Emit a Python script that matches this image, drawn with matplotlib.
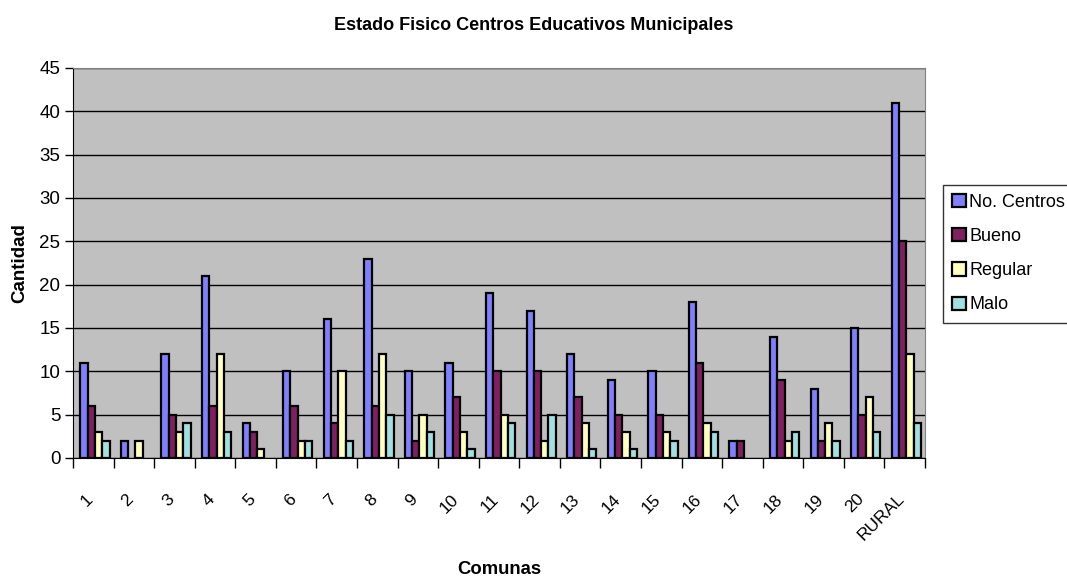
import matplotlib
matplotlib.use("Agg")
import matplotlib.pyplot as plt
import matplotlib.transforms as mtransforms
import numpy as np

plt.rcParams['font.family'] = ['Liberation Sans', 'DejaVu Sans']

# datos
comunas = ['1', '2', '3', '4', '5', '6', '7', '8', '9', '10', '11', '12', '13',
           '14', '15', '16', '17', '18', '19', '20', 'RURAL']
no_centros = [11, 2, 12, 21, 4, 10, 16, 23, 10, 11, 19, 17, 12, 9, 10, 18, 2, 14, 8, 15, 41]
bueno = [6, 0, 5, 6, 3, 6, 4, 6, 2, 7, 10, 10, 7, 5, 5, 11, 2, 9, 2, 5, 25]
regular = [3, 2, 3, 12, 1, 2, 10, 12, 5, 3, 5, 2, 4, 3, 3, 4, 0, 2, 4, 7, 12]
malo = [2, 0, 4, 3, 0, 2, 2, 5, 3, 1, 4, 5, 1, 1, 2, 3, 0, 3, 2, 3, 4]

series = [no_centros, bueno, regular, malo]
nombres = ['No. Centros', 'Bueno', 'Regular', 'Malo']
colores = ['#8080FF', '#802060', '#FFFFC0', '#A0E0E0']

fig = plt.figure(figsize=(10.67, 5.81), dpi=100)
ax = fig.add_axes([73/1067, 1 - 458/581, 852/1067, 390/581])
ax.set_facecolor('#C0C0C0')

x = np.arange(len(comunas))
w = 0.18
for i, (vals, nom, col) in enumerate(zip(series, nombres, colores)):
    # las barras en cero no se dibujan con borde
    lw = [1.6 if v > 0 else 0 for v in vals]
    ax.bar(x - 1.5*w + i*w + 0.04, vals, w, color=col, edgecolor='black', linewidth=lw,
           label=nom, zorder=3)

ax.set_xlim(-0.5, len(comunas) - 0.5)
ax.set_ylim(0, 45)
ax.set_yticks(range(0, 46, 5))
ax.yaxis.grid(True, color='black', linewidth=1, zorder=1)
ax.tick_params(axis='y', labelsize=13.5, direction='out', length=6, width=1, pad=3)

# ticks en los limites de categoria, etiquetas en el centro
ax.set_xticks(np.arange(-0.5, len(comunas)), minor=False)
ax.set_xticklabels([])
ax.tick_params(axis='x', which='major', direction='out', length=7, width=1)
ax.set_xticks(x, minor=True)
ax.set_xticklabels(comunas, minor=True, rotation=45, ha='right',
                   rotation_mode='anchor', fontsize=12.5)
ax.tick_params(axis='x', which='minor', length=0, pad=24)
desplaz = mtransforms.ScaledTranslation(-8/100, 0, fig.dpi_scale_trans)
for lab in ax.get_xticklabels(minor=True):
    lab.set_transform(lab.get_transform() + desplaz)

ax.spines['left'].set_color('black')
ax.spines['bottom'].set_color('black')
ax.spines['top'].set_color('#808080')
ax.spines['right'].set_color('#808080')

ax.set_ylabel('Cantidad', fontsize=13.5, fontweight='bold', labelpad=8)
fig.text(499/1067, 1 - 570/581, 'Comunas', ha='center', va='center',
         fontsize=13.3, fontweight='bold')
fig.text(0.5, 1 - 25/581, 'Estado Fisico Centros Educativos Municipales',
         ha='center', va='center', fontsize=13, fontweight='bold')

leg = ax.legend(loc='upper left', bbox_to_anchor=(943/1067, 1 - 185/581),
                bbox_transform=fig.transFigure, fontsize=13, frameon=True,
                fancybox=False, edgecolor='black', handlelength=0.75,
                handleheight=0.75, handletextpad=0.2, borderpad=0.5,
                labelspacing=0.95, borderaxespad=0)
leg.get_frame().set_linewidth(1)

fig.savefig('out.png', dpi=100)
